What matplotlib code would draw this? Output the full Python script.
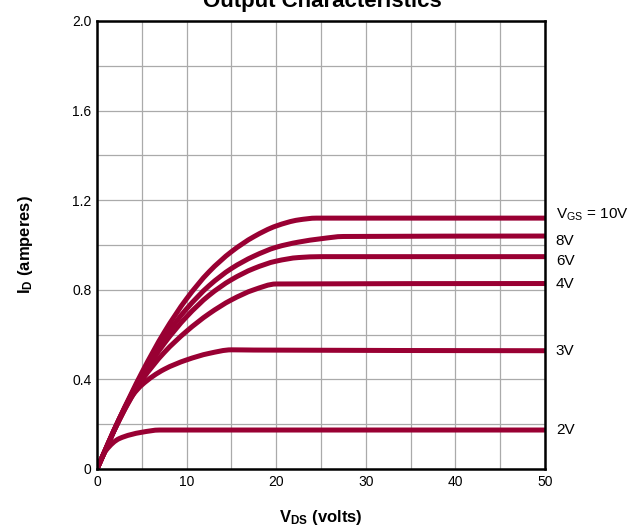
import matplotlib
matplotlib.use("Agg")
import matplotlib.pyplot as plt
from matplotlib.path import Path
from matplotlib.patches import PathPatch
import numpy as np

plt.rcParams['font.family'] = ['Liberation Sans', 'DejaVu Sans']
plt.rcParams['mathtext.fontset'] = 'custom'
plt.rcParams['mathtext.rm'] = 'Liberation Sans'
plt.rcParams['mathtext.bf'] = 'Liberation Sans:bold'

# Data
vgs_labels = ['10V', '8V', '6V', '4V', '3V', '2V']

v_10 = [0, 2.5, 5, 7.5, 10, 12.5, 15, 17.5, 20, 22.5, 24.5, 50]
i_10 = [0, 0.225, 0.43, 0.61, 0.76, 0.88, 0.97, 1.037, 1.085, 1.112, 1.12, 1.12]

v_8 = [0, 2.5, 5, 7.5, 10, 12.5, 15, 17.5, 20, 22.5, 25, 27.5, 50]
i_8 = [0, 0.225, 0.42, 0.585, 0.715, 0.818, 0.895, 0.95, 0.99, 1.013, 1.028, 1.038, 1.04]

v_6 = [0, 2.5, 5, 7.5, 10, 12.5, 15, 17.5, 20, 22.5, 25, 50]
i_6 = [0, 0.225, 0.41, 0.56, 0.68, 0.775, 0.845, 0.895, 0.928, 0.944, 0.948, 0.948]

v_4 = [0, 2.5, 5, 7.5, 10, 12.5, 15, 17.5, 20, 50]
i_4 = [0, 0.22, 0.395, 0.52, 0.615, 0.693, 0.755, 0.80, 0.826, 0.828]

v_3 = [0, 2.5, 4, 5, 7.5, 10, 12.5, 15, 17.5, 50]
i_3 = [0, 0.22, 0.33, 0.375, 0.445, 0.487, 0.516, 0.532, 0.531, 0.528]

v_2 = [0, 1, 2.5, 5, 7, 50]
i_2 = [0, 0.083, 0.136, 0.164, 0.174, 0.174]

x_ticks = [0, 10, 20, 30, 40, 50]
y_ticks = [0, 0.4, 0.8, 1.2, 1.6, 2.0]
y_tick_labels = ['0', '0.4', '0.8', '1.2', '1.6', '2.0']

curves = [(v_10, i_10), (v_8, i_8), (v_6, i_6), (v_4, i_4), (v_3, i_3), (v_2, i_2)]
label_shift = [0.015, -0.02, -0.02, 0.0, 0.0, 0.0]

color = '#990033'


def smooth_path(x, y):
    """Monotone cubic (Fritsch-Carlson) through the points, as Bezier segments."""
    x = np.asarray(x, float)
    y = np.asarray(y, float)
    h = np.diff(x)
    d = np.diff(y) / h
    n = len(x)
    m = np.zeros(n)
    m[0] = d[0]
    m[-1] = d[-1]
    for k in range(1, n - 1):
        if d[k - 1] * d[k] <= 0:
            m[k] = 0.0
        else:
            w1 = 2 * h[k] + h[k - 1]
            w2 = h[k] + 2 * h[k - 1]
            m[k] = (w1 + w2) / (w1 / d[k - 1] + w2 / d[k])
    verts = [(x[0], y[0])]
    codes = [Path.MOVETO]
    for k in range(n - 1):
        verts += [(x[k] + h[k] / 3, y[k] + m[k] * h[k] / 3),
                  (x[k + 1] - h[k] / 3, y[k + 1] - m[k + 1] * h[k] / 3),
                  (x[k + 1], y[k + 1])]
        codes += [Path.CURVE4] * 3
    return Path(verts, codes)


fig = plt.figure(figsize=(6.39, 5.27), dpi=100)
ax = fig.add_axes([97/639, 58/527, 448/639, 448/527])

for (v, i) in curves:
    patch = PathPatch(smooth_path(v, i), facecolor='none', edgecolor=color,
                      lw=3.6, capstyle='butt', joinstyle='round', zorder=3)
    ax.add_patch(patch)

ax.set_xlim(0, 50)
ax.set_ylim(0, 2.0)
ax.set_xticks(x_ticks)
ax.set_xticks(np.arange(5, 50, 10), minor=True)
ax.set_yticks(y_ticks)
ax.set_yticklabels(y_tick_labels)
ax.set_yticks(np.arange(0.2, 2.0, 0.4), minor=True)
ax.grid(True, which='both', color='#aaaaaa', lw=0.9, zorder=1)
ax.tick_params(which='both', length=0, labelsize=10, pad=4)
for s in ax.spines.values():
    s.set_linewidth(1.8)
    s.set_color('black')
    s.set_zorder(4)

for k, ((v, i), lab) in enumerate(zip(curves, vgs_labels)):
    txt = lab if k > 0 else r'V$_{\mathrm{GS}}$ = ' + lab
    ax.text(51.2, i[-1] + label_shift[k], txt, fontsize=11, va='center', ha='left', clip_on=False)

ax.set_xlabel(r'$\mathbf{V_{DS}}$ (volts)', fontsize=12, fontweight='bold', labelpad=14)
ax.set_ylabel(r'$\mathbf{I_D}$ (amperes)', fontsize=12, fontweight='bold', labelpad=27)
fig.text(0.505, 1 - 7/527, 'Output Characteristics', fontsize=16, fontweight='bold',
         ha='center', va='baseline')

fig.savefig('out.png', dpi=100)
